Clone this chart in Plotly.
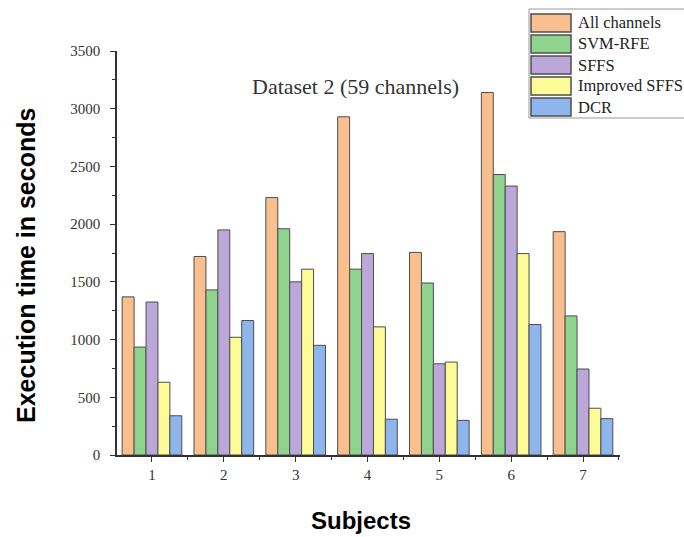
import plotly.graph_objects as go

subjects = [1, 2, 3, 4, 5, 6, 7]
series_names = ["All channels", "SVM-RFE", "SFFS", "Improved SFFS", "DCR"]
all_channels = [1370, 1720, 2230, 2930, 1755, 3140, 1935]
svm_rfe = [935, 1430, 1960, 1610, 1490, 2430, 1205]
sffs = [1325, 1950, 1500, 1745, 790, 2330, 745]
improved_sffs = [630, 1020, 1610, 1110, 805, 1745, 405]
dcr = [340, 1165, 950, 310, 300, 1130, 315]
y_ticks = [0, 500, 1000, 1500, 2000, 2500, 3000, 3500]

series_values = [all_channels, svm_rfe, sffs, improved_sffs, dcr]
colors = ["#F9BF8E", "#8FD48E", "#BBA8D8", "#FCFB98", "#8EB6EC"]
outline = "#4d4d4d"

W, H = 684, 537
L, R, T, B = 117, 620, 51, 455  # plot area in page pixels

def px(x):
    return (x - L) / (R - L)

def py(y):
    return (B - y) / (B - T)

fig = go.Figure()
for name, vals, c in zip(series_names, series_values, colors):
    fig.add_trace(go.Bar(x=subjects, y=vals, name=name,
                         marker=dict(color=c, line=dict(color=outline, width=1)),
                         showlegend=False))

serif = "Liberation Serif"
shapes = []
annotations = []

# custom legend (box runs off the right edge as in the reference)
shapes.append(dict(type="rect", xref="paper", yref="paper",
                   x0=px(529), x1=px(700), y0=py(118), y1=py(9),
                   line=dict(color="#9a9a9a", width=1), fillcolor="white", layer="above"))
row_centers = [23, 44, 65, 86, 107]
for name, c, yc in zip(series_names, colors, row_centers):
    shapes.append(dict(type="rect", xref="paper", yref="paper",
                       x0=px(531), x1=px(571), y0=py(yc + 9), y1=py(yc - 9),
                       line=dict(color=outline, width=1.5), fillcolor=c, layer="above"))
    annotations.append(dict(text=name, xref="paper", yref="paper", x=px(576), y=py(yc),
                            xanchor="left", yanchor="middle", showarrow=False,
                            font=dict(family=serif, size=16.5, color="#222")))

annotations.append(dict(text="Dataset 2 (59 channels)", xref="paper", yref="paper",
                        x=px(355), y=py(87), xanchor="center", yanchor="middle",
                        showarrow=False, font=dict(family=serif, size=22, color="#333")))
annotations.append(dict(text="<b>Execution time in seconds</b>", xref="paper", yref="paper",
                        x=px(26), y=py(266), xanchor="center", yanchor="middle", textangle=-90,
                        showarrow=False, font=dict(family="Liberation Sans", size=25, color="black")))
annotations.append(dict(text="<b>Subjects</b>", xref="paper", yref="paper",
                        x=px(361), y=py(520), xanchor="center", yanchor="middle",
                        showarrow=False, font=dict(family="Liberation Sans", size=24, color="black")))

fig.update_layout(
    width=W, height=H,
    margin=dict(l=L, r=W - R, t=T, b=H - B, pad=0),
    paper_bgcolor="white", plot_bgcolor="white",
    barmode="group", bargap=0.17, bargroupgap=0,
    shapes=shapes, annotations=annotations,
    xaxis=dict(range=[0.513, 7.515], tickvals=subjects, ticktext=[str(s) for s in subjects],
               showgrid=False, zeroline=False, showline=True, linecolor="#333", linewidth=1.5,
               ticks="outside", ticklen=5, tickcolor="#333",
               minor=dict(tick0=0.5, dtick=1, ticks="outside", ticklen=3, tickcolor="#333"),
               tickfont=dict(family=serif, size=15, color="#333")),
    yaxis=dict(range=[0, 3500], tickvals=y_ticks, showgrid=False, zeroline=False,
               showline=True, linecolor="#333", linewidth=1.5,
               ticks="outside", ticklen=5, tickcolor="#333", ticklabelstandoff=7,
               minor=dict(dtick=250, ticks="outside", ticklen=3, tickcolor="#333"),
               tickfont=dict(family=serif, size=15, color="#333")),
)

fig.write_html("out.html", config={"displayModeBar": False},
               post_script="document.body.style.margin='0';document.body.style.overflow='hidden';")
